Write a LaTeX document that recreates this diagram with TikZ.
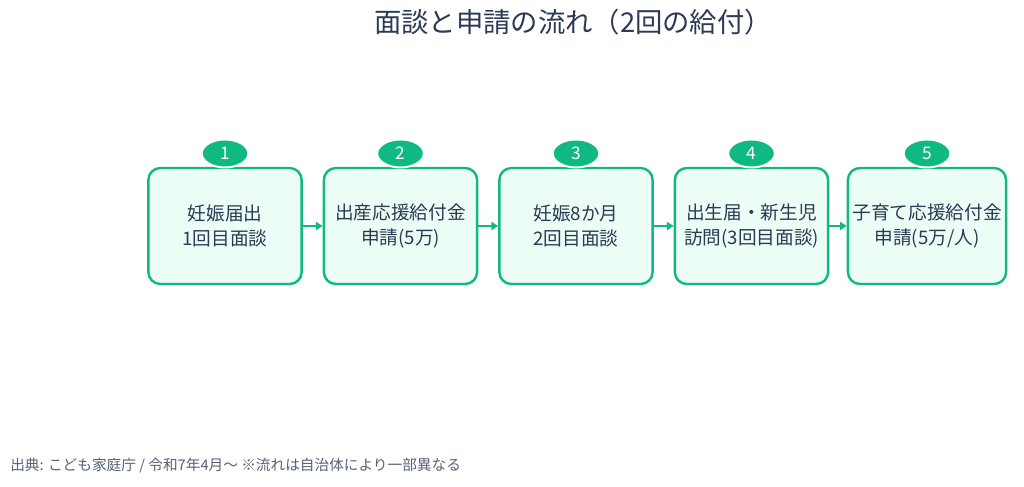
\documentclass[tikz,border=0pt]{standalone}
\usepackage{fontspec}
\setmainfont{Noto Sans CJK JP}
\usetikzlibrary{positioning,arrows.meta,shapes.geometric}
\definecolor{stepgreen}{HTML}{10B981}
\definecolor{stepfill}{HTML}{ECFDF5}
\definecolor{inkblue}{HTML}{2B3A55}
\tikzset{
    stage/.style={draw=stepgreen, fill=stepfill, line width=1.8pt, rounded corners=9pt,
        minimum width=115pt, minimum height=87pt, align=center, text=inkblue, font=\fontsize{14}{19}\selectfont},
    badge/.style={ellipse, fill=stepgreen, draw=white, line width=1.5pt, minimum width=35pt, minimum height=21pt,
        inner sep=0pt, text=white, font=\fontsize{13}{15}\selectfont},
    flow/.style={-{Triangle[length=5pt,width=6pt]}, draw=stepgreen, line width=1.8pt}
}
\begin{document}
\begin{tikzpicture}[x=0.75pt,y=-0.75pt]
    \useasboundingbox (0,0) rectangle (1024,486);

    % title
    \node[text=inkblue, font=\fontsize{20.5}{24}\selectfont] (title) at (573,22) {面談と申請の流れ（2回の給付）};

    % stages
    \node[stage] (s1) at (225,226) {妊娠届出\\1回目面談};
    \node[stage] (s2) at (400.5,226) {出産応援給付金\\申請(5万)};
    \node[stage] (s3) at (576,226) {妊娠8か月\\2回目面談};
    \node[stage] (s4) at (751.5,226) {出生届・新生児\\訪問(3回目面談)};
    \node[stage] (s5) at (927,226) {子育て応援給付金\\申請(5万/人)};

    % badges
    \foreach \i in {1,...,5}
        \node[badge] (b\i) at ([yshift=10pt]s\i.north) {\i};

    % arrows
    \foreach \a/\b in {s1/s2,s2/s3,s3/s4,s4/s5}
        \draw[flow] (\a) -- (\b);

    % source
    \node[anchor=west, inner sep=0pt, text=inkblue!80, font=\fontsize{11}{13}\selectfont] (src) at (10,466)
        {出典: こども家庭庁 / 令和7年4月〜 ※流れは自治体により一部異なる};
\end{tikzpicture}
\end{document}
